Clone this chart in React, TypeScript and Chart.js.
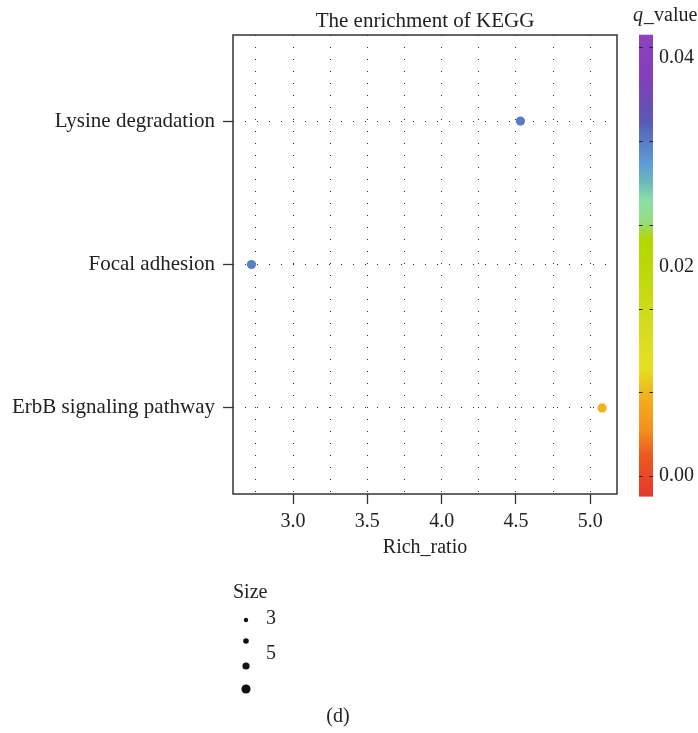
import React, { useEffect, useRef } from "react";
import { Chart, registerables } from "chart.js";

Chart.register(...registerables);

const categories = ["ErbB signaling pathway", "Focal adhesion", "Lysine degradation"];
const richRatio = [5.08, 2.72, 4.53];
const qValues = [0.0077, 0.0317, 0.0319];
const xTickValues = [2.75, 3.0, 3.25, 3.5, 3.75, 4.0, 4.25, 4.5, 4.75, 5.0];
const qTickValues = [0, 0.02, 0.04];
const qMarkValues = [0, 0.008, 0.016, 0.024, 0.032, 0.041];
const sizeLabels = ["3", "5"];

// colour ramp stops [q, colour]
const rampQ = [-0.002, 0.002, 0.0044, 0.0077, 0.0103, 0.0149, 0.0197, 0.0226, 0.0243, 0.0264, 0.028, 0.0297, 0.0321, 0.034, 0.0379, 0.0422];
const rampColors = ["#e4392b", "#ee5a22", "#f4901c", "#f2b21e", "#e6e022", "#d2dc20", "#bcd808", "#b0d800", "#98dc80", "#88e0a8", "#70b8b8", "#5fa0d6", "#5878c4", "#5a58b4", "#8040b8", "#9040c0"];

const FONT = '"Liberation Serif", "Times New Roman", serif';

function hexToRgb(h: string) {
  const n = parseInt(h.slice(1), 16);
  return [(n >> 16) & 255, (n >> 8) & 255, n & 255];
}
function colorFor(q: number) {
  if (q <= rampQ[0]) return rampColors[0];
  for (let i = 1; i < rampQ.length; i++) {
    if (q <= rampQ[i]) {
      const t = (q - rampQ[i - 1]) / (rampQ[i] - rampQ[i - 1]);
      const a = hexToRgb(rampColors[i - 1]);
      const b = hexToRgb(rampColors[i]);
      const c = a.map((v, k) => Math.round(v + (b[k] - v) * t));
      return `rgb(${c[0]},${c[1]},${c[2]})`;
    }
  }
  return rampColors[rampColors.length - 1];
}

const isMajor = (v: number) => Math.abs(v * 2 - Math.round(v * 2)) < 1e-6;
const noPad = (s: any) => {
  s.paddingTop = 0;
  s.paddingBottom = 0;
  s.paddingLeft = 0;
  s.paddingRight = 0;
};

const decorPlugin = {
  id: "decor",
  afterDraw(chart: any) {
    const ctx = chart.ctx;
    const a = chart.chartArea;
    const qs = chart.scales.q;
    ctx.save();
    // plot border
    ctx.strokeStyle = "#333";
    ctx.lineWidth = 1.5;
    ctx.strokeRect(a.left, a.top, a.right - a.left, a.bottom - a.top);
    // title
    ctx.fillStyle = "#222";
    ctx.font = `21px ${FONT}`;
    ctx.textAlign = "center";
    ctx.textBaseline = "alphabetic";
    ctx.fillText("The enrichment of KEGG", (a.left + a.right) / 2, 27);
    // x title
    ctx.font = `20px ${FONT}`;
    ctx.fillText("Rich_ratio", (a.left + a.right) / 2, 553);
    // colorbar
    const x0 = 639, w = 14;
    const yTop = qs.getPixelForValue(rampQ[rampQ.length - 1]);
    const yBot = qs.getPixelForValue(rampQ[0]);
    const g = ctx.createLinearGradient(0, yBot, 0, yTop);
    rampQ.forEach((q, i) => {
      const f = (qs.getPixelForValue(q) - yBot) / (yTop - yBot);
      g.addColorStop(Math.min(1, Math.max(0, f)), rampColors[i]);
    });
    ctx.fillStyle = g;
    ctx.fillRect(x0, yTop, w, yBot - yTop);
    ctx.strokeStyle = "#222";
    ctx.lineWidth = 1;
    qMarkValues.forEach((q) => {
      const y = Math.round(qs.getPixelForValue(q)) + 0.5;
      ctx.beginPath();
      ctx.moveTo(x0, y); ctx.lineTo(x0 + 3.5, y);
      ctx.moveTo(x0 + w - 3.5, y); ctx.lineTo(x0 + w, y);
      ctx.stroke();
    });
    // colorbar title
    ctx.fillStyle = "#222";
    ctx.textAlign = "left";
    ctx.font = `italic 20px ${FONT}`;
    ctx.fillText("q", 633, 21);
    const qw = ctx.measureText("q").width;
    ctx.font = `20px ${FONT}`;
    ctx.fillText("_value", 633 + qw + 1, 21);
    // size legend
    ctx.fillText("Size", 233, 598);
    ctx.fillStyle = "#111";
    const radii = [2.2, 2.8, 3.6, 4.6];
    const ys = [620, 641, 666, 689];
    radii.forEach((r, i) => {
      ctx.beginPath();
      ctx.arc(246, ys[i], r, 0, Math.PI * 2);
      ctx.fill();
    });
    ctx.fillStyle = "#222";
    ctx.textBaseline = "middle";
    ctx.fillText(sizeLabels[0], 266, 619);
    ctx.fillText(sizeLabels[1], 266, 654);
    ctx.textAlign = "center";
    ctx.textBaseline = "alphabetic";
    ctx.fillText("(d)", 338, 722);
    ctx.restore();
  },
};

export default function App() {
  const ref = useRef<HTMLCanvasElement>(null);
  useEffect(() => {
    document.body.style.margin = "0";
    const pxPerQ = 10450;
    const chart = new Chart(ref.current!, {
      type: "scatter",
      data: {
        datasets: [
          {
            data: richRatio.map((x, i) => ({ x, y: i })),
            pointRadius: 4.6,
            pointHoverRadius: 4.6,
            pointBackgroundColor: qValues.map(colorFor),
            pointBorderWidth: 0,
          },
        ],
      },
      options: {
        animation: false,
        responsive: false,
        events: [],
        layout: { padding: { left: 0, right: 0, top: 35, bottom: 0 } },
        plugins: { legend: { display: false }, tooltip: { enabled: false } },
        scales: {
          x: {
            type: "linear",
            min: 2.596,
            max: 5.18,
            afterFit: (s: any) => { s.height = 733 - 35 - 459; noPad(s); },
            afterBuildTicks: (s: any) => { s.ticks = xTickValues.map((value) => ({ value })); },
            border: { display: false, dash: [1, 11] },
            grid: {
              color: "#333",
              lineWidth: 1,
              tickLength: 10,
              tickColor: (c: any) => (c.tick && isMajor(c.tick.value) ? "#333" : "rgba(0,0,0,0)"),
              tickBorderDash: [],
              tickWidth: 1.3,
            },
            ticks: {
              autoSkip: false,
              maxRotation: 0,
              padding: 6,
              color: "#222",
              font: { family: FONT, size: 20 },
              callback: (v: any) => (isMajor(Number(v)) ? Number(v).toFixed(1) : ""),
            },
          },
          y: {
            type: "linear",
            min: -0.6,
            max: 2.6,
            afterFit: (s: any) => { s.width = 233; noPad(s); },
            afterBuildTicks: (s: any) => { s.ticks = categories.map((_, i) => ({ value: i })); },
            border: { display: false, dash: [1, 11] },
            grid: {
              color: "#333",
              lineWidth: 1,
              tickLength: 10,
              tickColor: "#333",
              tickBorderDash: [],
              tickWidth: 1.3,
            },
            ticks: {
              autoSkip: false,
              padding: 8,
              color: "#222",
              font: { family: FONT, size: 21 },
              callback: (v: any) => categories[Math.round(Number(v))],
            },
          },
          q: {
            type: "linear",
            position: "right",
            min: (475.7 - 494) / pxPerQ,
            max: (475.7 - 35) / pxPerQ,
            afterFit: (s: any) => { s.width = 81; noPad(s); },
            afterBuildTicks: (s: any) => { s.ticks = qTickValues.map((value) => ({ value })); },
            border: { display: false },
            grid: { drawOnChartArea: false, drawTicks: false },
            ticks: {
              padding: 42,
              color: "#222",
              font: { family: FONT, size: 20 },
              callback: (v: any) => Number(v).toFixed(2),
            },
          },
        },
      },
      plugins: [decorPlugin],
    });
    return () => chart.destroy();
  }, []);
  return (
    <div style={{ width: 698, height: 733 }}>
      <canvas ref={ref} width={698} height={733} style={{ display: "block", width: 698, height: 733 }} />
    </div>
  );
}
